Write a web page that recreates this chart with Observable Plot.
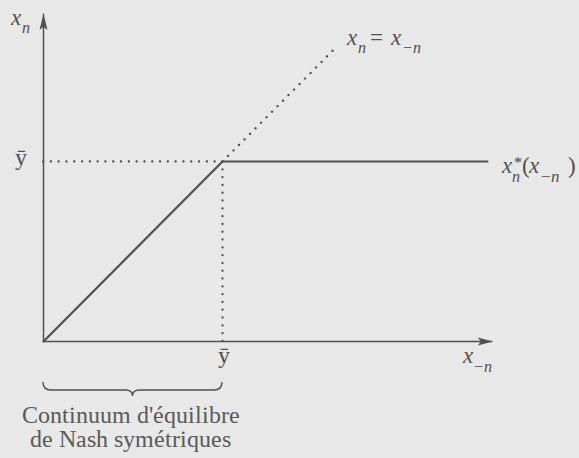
<!DOCTYPE html>
<html>
<head>
<meta charset="utf-8">
<script src="https://cdn.jsdelivr.net/npm/d3@7"></script>
<script src="https://cdn.jsdelivr.net/npm/@observablehq/plot@0.6"></script>
<style>
  @font-face {
    font-family: "Chart Serif";
    font-style: normal;
    font-display: swap;
    src: local("Liberation Serif"), local("LiberationSerif");
  }
  @font-face {
    font-family: "Chart Serif";
    font-style: italic;
    font-display: swap;
    src: local("Liberation Serif Italic"), local("LiberationSerif-Italic");
  }
  html, body { margin: 0; padding: 0; background: #e8e8e8; }
  html body div#chart svg text,
  html body div#chart svg tspan {
    font-family: "Chart Serif", "Liberation Serif", "DejaVu Serif", serif !important;
  }
</style>
</head>
<body>
<div id="chart"></div>
<script>
// Threshold value ȳ and the extent of the two axes (in units of ȳ)
const ybar = 1;
const axisXEnd = 2.51;
const axisYEnd = 1.82;

// Best response x*_n(x_-n): rises along the diagonal, then flat at ȳ
const responseX = [0, ybar, 2.48];
const responseY = [0, ybar, ybar];

// Dotted 45° line x_n = x_-n beyond the kink
const diagonalX = [ybar, 1.62];
const diagonalY = [ybar, 1.62];

// Text
const barLabel = "ȳ";
const captionLines = ["Continuum d'équilibre", "de Nash symétriques"];

const ink = "#505050";
const captionInk = "#5a5a5a";
const serifFont = "'Chart Serif', 'Liberation Serif', 'DejaVu Serif', serif";

const response = responseX.map((x, i) => ({x, y: responseY[i]}));
const diagonal = diagonalX.map((x, i) => ({x, y: diagonalY[i]}));

// Filled, slightly notched arrowhead for the axes
const arrowHead = {
  draw(context, l, r) {
    context.moveTo(0, -l);
    context.lineTo(-r, 0);
    context.lineTo(0, -l * 0.2);
    context.lineTo(r, 0);
    context.closePath();
  }
};

// A label made of several pieces (main glyphs, sub/superscripts), anchored
// at a data point and offset in pixels; each piece sits on its own baseline.
function mathLabel(anchor, pieces) {
  return (index, scales) => {
    const x0 = scales.x(anchor.x), y0 = scales.y(anchor.y);
    const g = d3.create("svg:g").attr("font-family", serifFont);
    for (const p of pieces) {
      g.append("text")
        .attr("x", x0 + p.dx)
        .attr("y", y0 + p.dy)
        .attr("font-size", p.size ?? 23)
        .attr("font-style", p.italic === false ? "normal" : "italic")
        .attr("text-anchor", p.anchor ?? "start")
        .attr("fill", p.fill ?? ink)
        .text(p.t);
    }
    return g.node();
  };
}

// Curly brace under the x axis spanning [0, ȳ]
function brace(index, scales) {
  const x0 = scales.x(0), x1 = scales.x(ybar), xm = (x0 + x1) / 2;
  const y0 = scales.y(0);
  const top = y0 + 41, mid = y0 + 49, tip = y0 + 55;
  const p = d3.path();
  p.moveTo(x0, top);
  p.quadraticCurveTo(x0, mid, x0 + 8, mid);
  p.lineTo(xm - 7, mid);
  p.quadraticCurveTo(xm, mid, xm, tip);
  p.quadraticCurveTo(xm, mid, xm + 7, mid);
  p.lineTo(x1 - 8, mid);
  p.quadraticCurveTo(x1, mid, x1, top);
  return d3.create("svg:path")
    .attr("d", p.toString())
    .attr("fill", "none")
    .attr("stroke", ink)
    .attr("stroke-width", 1.4)
    .node();
}

const dotted = {stroke: ink, strokeWidth: 2.3, strokeDasharray: "0.1,7.7", strokeLinecap: "round"};

const chart = Plot.plot({
  width: 579,
  height: 458,
  margin: 0,
  x: {domain: [0, ybar], range: [43, 222], axis: null},
  y: {domain: [0, ybar], range: [341, 161], axis: null},
  style: {background: "#e8e8e8", overflow: "visible", fontFamily: serifFont},
  marks: [
    // Axes with arrowheads
    Plot.ruleY([0], {x1: 0, x2: axisXEnd, stroke: ink, strokeWidth: 1.5}),
    Plot.ruleX([0], {y1: 0, y2: axisYEnd, stroke: ink, strokeWidth: 1.5}),
    Plot.vector([{x: axisXEnd, y: 0}], {x: "x", y: "y", rotate: 90, length: 15, r: 4, anchor: "end", shape: arrowHead, fill: ink, stroke: "none"}),
    Plot.vector([{x: 0, y: axisYEnd}], {x: "x", y: "y", rotate: 0, length: 16, r: 4, anchor: "end", shape: arrowHead, fill: ink, stroke: "none"}),

    // Dotted guides to ȳ on both axes and the 45° line
    Plot.ruleY([ybar], {x1: 0, x2: ybar, ...dotted}),
    Plot.ruleX([ybar], {y1: 0, y2: ybar, ...dotted}),
    Plot.line(diagonal, {x: "x", y: "y", ...dotted}),

    // Best-response function
    Plot.line(response, {x: "x", y: "y", stroke: ink, strokeWidth: 2.2}),

    // Axis labels
    mathLabel({x: 0, y: axisYEnd}, [
      {t: "x", dx: -32, dy: 12},
      {t: "n", dx: -21, dy: 20, size: 16}
    ]),
    mathLabel({x: axisXEnd, y: 0}, [
      {t: "x", dx: -29, dy: 22},
      {t: "−n", dx: -19, dy: 31, size: 16}
    ]),

    // Diagonal label
    mathLabel({x: diagonalX[1], y: diagonalY[1]}, [
      {t: "x", dx: 14, dy: -4},
      {t: "n", dx: 25, dy: 4, size: 16},
      {t: "=", dx: 37, dy: -4, italic: false},
      {t: "x", dx: 58, dy: -4},
      {t: "−n", dx: 69, dy: 4, size: 16}
    ]),

    // Best-response label
    mathLabel({x: responseX[2], y: responseY[2]}, [
      {t: "x", dx: 15, dy: 12},
      {t: "*", dx: 27, dy: 7, size: 16, italic: false},
      {t: "n", dx: 25, dy: 21, size: 16},
      {t: "(", dx: 35, dy: 12, italic: false},
      {t: "x", dx: 42, dy: 12},
      {t: "−n", dx: 53, dy: 21, size: 17},
      {t: ")", dx: 81, dy: 12, italic: false}
    ]),

    // ȳ on both axes
    mathLabel({x: 0, y: ybar}, [
      {t: barLabel, dx: -22.5, dy: 4, italic: false, anchor: "middle", size: 24}
    ]),
    mathLabel({x: ybar, y: 0}, [
      {t: barLabel, dx: 1.5, dy: 22, italic: false, anchor: "middle", size: 24}
    ]),

    // Brace and caption
    brace,
    mathLabel({x: ybar / 2, y: 0}, [
      {t: captionLines[0], dx: -2, dy: 82, italic: false, anchor: "middle", size: 24, fill: captionInk},
      {t: captionLines[1], dx: -2, dy: 106, italic: false, anchor: "middle", size: 24, fill: captionInk}
    ])
  ]
});

document.getElementById("chart").append(chart);
</script>
</body>
</html>
